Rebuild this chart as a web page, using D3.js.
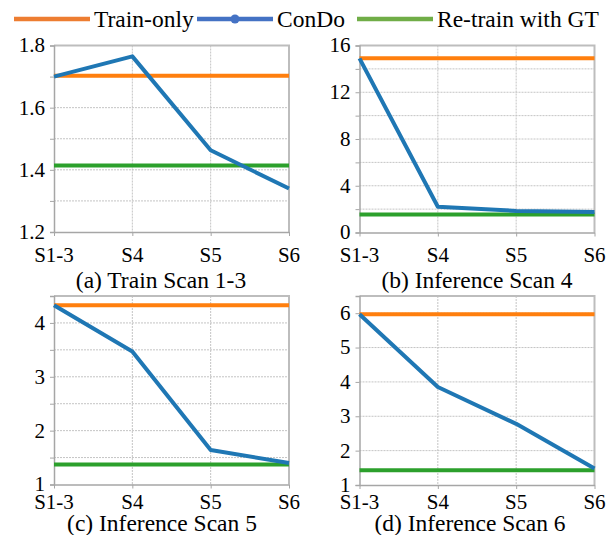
<!DOCTYPE html>
<html>
<head>
<meta charset="utf-8">
<script src="https://cdn.jsdelivr.net/npm/d3@7/dist/d3.min.js"></script>
<style>
  body { margin: 0; background: #fff; }
</style>
</head>
<body>
<div id="chart"></div>
<script>
// categories on the x axis
const categories = ["S1-3", "S4", "S5", "S6"];

// ConDo values per panel
const condoA = [1.70, 1.765, 1.463, 1.34];
const condoB = [14.9, 2.2, 1.85, 1.75];
const condoC = [4.33, 3.47, 1.64, 1.40];
const condoD = [5.97, 3.85, 2.78, 1.48];

// flat baselines per panel
const trainOnly = [1.703, 14.9, 4.33, 5.97];
const retrainGT = [1.414, 1.55, 1.37, 1.43];

// axis settings per panel
const yDomains = [[1.2, 1.8], [0, 16], [1, 4.5], [1, 6.5]];
const yLabelTicks = [[1.2, 1.4, 1.6, 1.8], [0, 4, 8, 12, 16], [1, 2, 3, 4], [1, 2, 3, 4, 5, 6]];
const yGridTicks = [[1.3, 1.4, 1.5, 1.6, 1.7], [2, 4, 6, 8, 10, 12, 14], [1.5, 2, 2.5, 3, 3.5, 4], [2, 3, 4, 5, 6]];
const yMinorTicks = [[1.2, 1.3, 1.4, 1.5, 1.6, 1.7, 1.8], [0, 2, 4, 6, 8, 10, 12, 14, 16], [1, 1.5, 2, 2.5, 3, 3.5, 4, 4.5], [1, 2, 3, 4, 5, 6]];
const yFormats = [d3.format(".1f"), d3.format("d"), d3.format("d"), d3.format("d")];
const titles = ["(a) Train Scan 1-3", "(b) Inference Scan 4", "(c) Inference Scan 5", "(d) Inference Scan 6"];
const legendNames = ["Train-only", "ConDo", "Re-train with GT"];

const condo = [condoA, condoB, condoC, condoD];

const fontFam = "Liberation Serif";

const width = 613, height = 535;
const svg = d3.select("#chart").append("svg")
  .attr("width", width)
  .attr("height", height)
  .attr("font-family", fontFam);

// panel boxes (plot area)
const panels = [
  {x0: 54, x1: 289, y0: 45.5, y1: 232, titleX: 161, titleY: 288, labY: 262},
  {x0: 359.5, x1: 594.5, y0: 45.5, y1: 232.5, titleX: 477, titleY: 288, labY: 262},
  {x0: 54, x1: 289, y0: 296, y1: 484.5, titleX: 162, titleY: 531, labY: 509},
  {x0: 359.5, x1: 594.5, y0: 296, y1: 485, titleX: 470, titleY: 531, labY: 509}
];

const cTrain = "#ff7f0e", cCondo = "#1f77b4", cGT = "#2ca02c";
const axisColor = "#a6a6a6", gridColor = "#c4c4c4";

panels.forEach((p, i) => {
  const x = d3.scalePoint().domain(categories).range([p.x0, p.x1]);
  const y = d3.scaleLinear().domain(yDomains[i]).range([p.y1, p.y0]);
  const g = svg.append("g");

  // horizontal grid
  g.selectAll(".hg").data(yGridTicks[i]).enter().append("line")
    .attr("x1", p.x0).attr("x2", p.x1)
    .attr("y1", d => y(d)).attr("y2", d => y(d))
    .attr("stroke", gridColor).attr("stroke-width", 1)
    .attr("stroke-dasharray", "2,1");

  // vertical grid
  g.selectAll(".vg").data(categories.slice(1, -1)).enter().append("line")
    .attr("x1", d => x(d)).attr("x2", d => x(d))
    .attr("y1", p.y0).attr("y2", p.y1)
    .attr("stroke", gridColor).attr("stroke-width", 1)
    .attr("stroke-dasharray", "2,1");

  // top and right frame
  g.append("path")
    .attr("d", `M${p.x0},${p.y0}H${p.x1}V${p.y1}`)
    .attr("fill", "none").attr("stroke", "#bdbdbd").attr("stroke-width", 2);

  // y axis
  const yAxis = g.append("g")
    .attr("transform", `translate(${p.x0},0)`)
    .call(d3.axisLeft(y).tickValues(yMinorTicks[i]).tickSize(4).tickFormat(""));
  yAxis.select(".domain").attr("stroke", axisColor).attr("stroke-width", 1.5);
  yAxis.selectAll(".tick line").attr("stroke", axisColor);

  g.selectAll(".yl").data(yLabelTicks[i]).enter().append("text")
    .attr("x", p.x0 - 9)
    .attr("y", d => y(d))
    .attr("dy", "0.33em")
    .attr("text-anchor", "end")
    .attr("font-family", fontFam)
    .attr("font-size", 21)
    .text(yFormats[i]);

  // x axis
  const xAxis = g.append("g")
    .attr("transform", `translate(0,${p.y1})`)
    .call(d3.axisBottom(x).tickSize(4).tickSizeOuter(0).tickFormat(""));
  xAxis.select(".domain").attr("stroke", axisColor).attr("stroke-width", 1.5);
  xAxis.selectAll(".tick line").attr("stroke", axisColor);

  g.selectAll(".xl").data(categories).enter().append("text")
    .attr("x", d => x(d))
    .attr("y", p.labY)
    .attr("text-anchor", "middle")
    .attr("font-family", fontFam)
    .attr("font-size", 21)
    .text(d => d);

  // baselines
  const flat = (v) => categories.map(c => ({c: c, v: v}));
  const line = d3.line().x(d => x(d.c)).y(d => y(d.v));

  g.append("path").datum(flat(trainOnly[i]))
    .attr("d", line).attr("fill", "none")
    .attr("stroke", cTrain).attr("stroke-width", 4);

  g.append("path").datum(flat(retrainGT[i]))
    .attr("d", line).attr("fill", "none")
    .attr("stroke", cGT).attr("stroke-width", 4);

  g.append("path").datum(condo[i].map((v, k) => ({c: categories[k], v: v})))
    .attr("d", line).attr("fill", "none")
    .attr("stroke", cCondo).attr("stroke-width", 4)
    .attr("stroke-linejoin", "round");

  // title
  g.append("text")
    .attr("x", p.titleX).attr("y", p.titleY)
    .attr("text-anchor", "middle")
    .attr("font-family", fontFam)
    .attr("font-size", 23.5)
    .text(titles[i]);
});

// legend
const legendItems = [
  {name: legendNames[0], color: "#ed7d31", x: 14, marker: false},
  {name: legendNames[1], color: "#4472c4", x: 197, marker: true},
  {name: legendNames[2], color: "#70ad47", x: 357, marker: false}
];
const lg = svg.append("g");
legendItems.forEach(it => {
  lg.append("line")
    .attr("x1", it.x).attr("x2", it.x + 76)
    .attr("y1", 19).attr("y2", 19)
    .attr("stroke", it.color).attr("stroke-width", 4.5);
  if (it.marker) {
    lg.append("circle").attr("cx", it.x + 38).attr("cy", 19).attr("r", 4.5)
      .attr("fill", it.color);
  }
  lg.append("text")
    .attr("x", it.x + 80).attr("y", 19)
    .attr("dy", "0.33em")
    .attr("font-family", fontFam)
    .attr("font-size", 23.5)
    .text(it.name);
});
</script>
</body>
</html>
